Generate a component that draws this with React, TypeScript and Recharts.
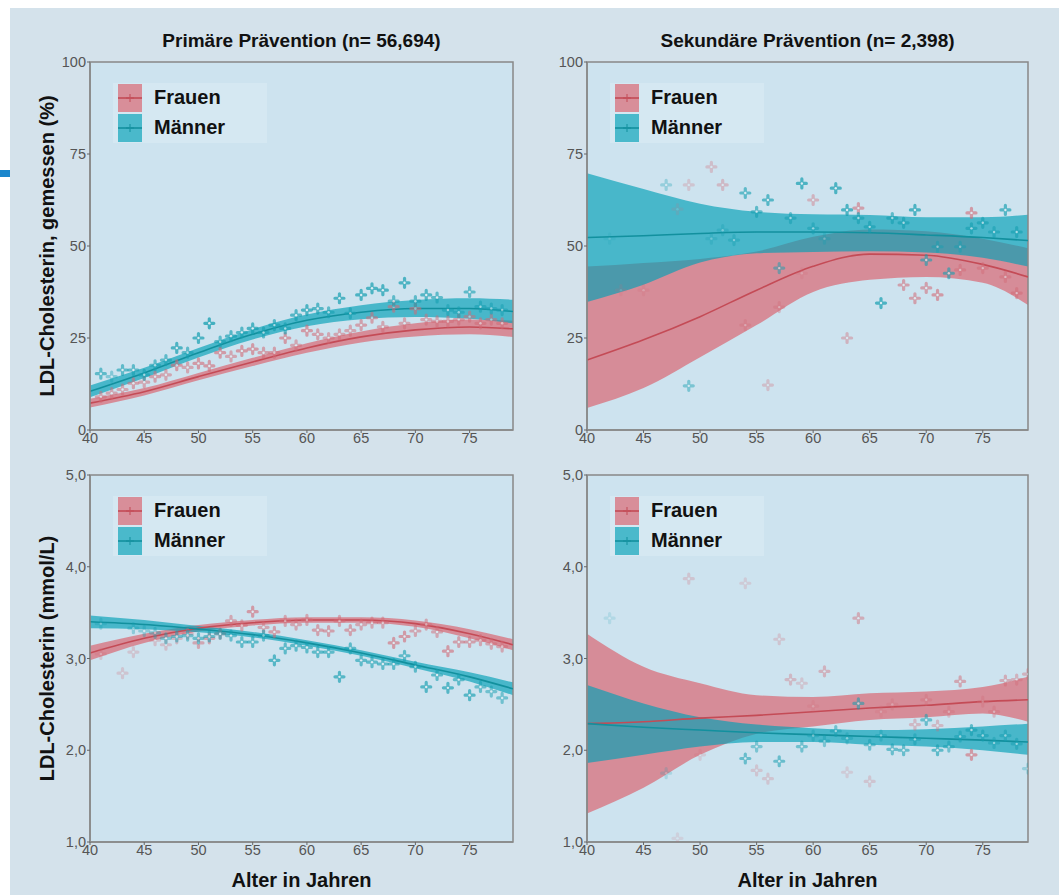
import React from 'react';
import {
  ComposedChart,
  Area,
  Line,
  Scatter,
  XAxis,
  YAxis,
  CartesianGrid,
  ReferenceArea,
  Legend,
} from 'recharts';

// Stützstellen der Glättungskurven (Alter in Jahren)
const fitAges = [40, 45, 50, 55, 60, 65, 70, 75, 79];
const xTicks = [40, 45, 50, 55, 60, 65, 70, 75];
const pctTicks = [0, 25, 50, 75, 100];
const mmolTicks = [1, 2, 3, 4, 5];

const titles = ['Primäre Prävention (n= 56,694)', 'Sekundäre Prävention (n= 2,398)'];
const yLabels = ['LDL-Cholesterin, gemessen (%)', 'LDL-Cholesterin (mmol/L)'];
const xLabel = 'Alter in Jahren';
const seriesNames = ['Frauen', 'Männer'];

// Kurven: [unteres KI, Schätzung, oberes KI] je Stützstelle
const primPctFrauen = [
  [6.1, 7.3, 8.5], [9.4, 10.4, 11.4], [13.5, 14.5, 15.5], [17.4, 18.5, 19.6], [21.0, 22.3, 23.6],
  [23.8, 25.3, 26.8], [25.4, 27.2, 29.0], [26.0, 28.0, 30.0], [25.3, 27.5, 29.7],
];
const primPctMaenner = [
  [8.9, 10.5, 12.1], [14.1, 15.5, 16.9], [19.7, 21.0, 22.3], [24.6, 26.0, 27.4], [28.2, 29.8, 31.4],
  [30.1, 32.0, 33.9], [30.7, 33.0, 35.3], [30.2, 33.0, 35.8], [29.0, 32.2, 35.4],
];
const sekPctFrauen = [
  [6.0, 19.0, 44.4], [11.4, 24.5, 45.4], [19.8, 30.8, 46.5], [28.5, 38.0, 48.5], [37.5, 44.5, 52.5],
  [40.8, 47.8, 54.5], [41.6, 47.5, 54.0], [40.0, 45.0, 52.0], [34.0, 41.6, 49.4],
];
const sekPctMaenner = [
  [34.8, 52.3, 69.8], [39.5, 52.8, 65.5], [45.5, 53.4, 61.5], [48.0, 53.8, 59.3], [48.4, 53.8, 58.6],
  [48.6, 53.6, 58.4], [48.2, 53.0, 57.8], [46.8, 52.3, 57.8], [44.4, 51.5, 58.5],
];
const primMmolFrauen = [
  [2.98, 3.06, 3.14], [3.17, 3.22, 3.27], [3.295, 3.33, 3.365], [3.36, 3.39, 3.42], [3.39, 3.42, 3.45],
  [3.39, 3.42, 3.45], [3.345, 3.38, 3.415], [3.22, 3.27, 3.32], [3.09, 3.15, 3.21],
];
const primMmolMaenner = [
  [3.33, 3.40, 3.47], [3.32, 3.37, 3.42], [3.285, 3.32, 3.355], [3.23, 3.26, 3.29], [3.14, 3.17, 3.20],
  [3.03, 3.06, 3.09], [2.895, 2.93, 2.965], [2.75, 2.80, 2.85], [2.60, 2.67, 2.74],
];
const sekMmolFrauen = [
  [1.31, 2.29, 3.27], [1.59, 2.31, 2.91], [1.95, 2.35, 2.73], [2.18, 2.38, 2.60], [2.26, 2.42, 2.58],
  [2.33, 2.46, 2.62], [2.36, 2.49, 2.64], [2.40, 2.53, 2.69], [2.31, 2.55, 2.80],
];
const sekMmolMaenner = [
  [1.86, 2.29, 2.71], [1.95, 2.25, 2.51], [2.04, 2.22, 2.36], [2.09, 2.19, 2.28], [2.09, 2.17, 2.24],
  [2.06, 2.15, 2.22], [2.04, 2.13, 2.23], [2.00, 2.11, 2.26], [1.95, 2.09, 2.29],
];

// Mittelwerte je Altersjahr: [Alter, Wert, Gewicht (relative Fallzahl)]
const primPctFrauenPts = [
  [41, 9, 0.5], [42, 10, 0.5], [43, 11, 0.5], [44, 12.7, 0.55], [45, 13, 0.5], [46, 14.5, 0.55],
  [47, 15, 0.5], [48, 17.6, 0.6], [49, 17, 0.5], [50, 18.1, 0.6], [51, 17.4, 0.6], [52, 21, 0.6],
  [53, 20, 0.5], [54, 21.5, 0.6], [55, 22, 0.6], [56, 21, 0.55], [57, 21, 0.55], [58, 25, 0.6],
  [59, 23, 0.5], [60, 27, 0.6], [61, 26, 0.55], [62, 25, 0.5], [63, 26, 0.5], [64, 27, 0.5],
  [65, 28.5, 0.55], [66, 30.5, 0.55], [67, 28, 0.5], [68, 33.5, 0.55], [69, 29, 0.5], [70, 33, 0.55],
  [71, 30, 0.5], [72, 29.5, 0.5], [73, 29.5, 0.5], [74, 30, 0.5], [75, 30.8, 0.5], [76, 29, 0.5],
  [77, 30, 0.5], [78, 29, 0.5],
];
const primPctMaennerPts = [
  [41, 15.3, 0.6], [42, 14.5, 0.4], [43, 16.3, 0.6], [44, 16.3, 0.6], [45, 15, 0.6], [46, 17.6, 0.6],
  [47, 19, 0.6], [48, 22.3, 0.7], [49, 21, 0.6], [50, 25, 0.7], [51, 29, 0.75], [52, 24, 0.6],
  [53, 25.5, 0.65], [54, 26.5, 0.65], [55, 27.6, 0.7], [56, 26.5, 0.6], [57, 28.5, 0.65], [58, 27.6, 0.6],
  [59, 31.2, 0.65], [60, 32.6, 0.7], [61, 33, 0.65], [62, 32, 0.6], [63, 35.8, 0.7], [64, 31.7, 0.6],
  [65, 36.7, 0.7], [66, 38.5, 0.7], [67, 38, 0.7], [68, 35, 0.6], [69, 40, 0.7], [70, 35, 0.6],
  [71, 36.7, 0.65], [72, 36, 0.6], [73, 32.6, 0.55], [74, 32, 0.5], [75, 37.5, 0.6], [76, 33.5, 0.55],
  [77, 33, 0.5], [78, 32.6, 0.5],
];
const sekPctFrauenPts = [
  [43, 38, 0.15], [45, 38, 0.2], [48, 60, 0.15], [49, 66.6, 0.25], [51, 71.5, 0.3], [52, 66.6, 0.35],
  [54, 28.5, 0.3], [56, 12.2, 0.3], [57, 33.4, 0.35], [59, 42.6, 0.2], [60, 62.5, 0.4], [63, 25, 0.4],
  [64, 60.3, 0.55], [68, 39.4, 0.55], [69, 35.8, 0.55], [70, 38.6, 0.55], [71, 36.7, 0.6], [73, 43.5, 0.45],
  [74, 59, 0.6], [75, 44, 0.45], [77, 41.6, 0.45], [78, 37.2, 0.5],
];
const sekPctMaennerPts = [
  [42, 52, 0.15], [47, 66.6, 0.3], [49, 12, 0.45], [51, 52, 0.25], [52, 54.3, 0.3], [53, 51.6, 0.4],
  [54, 64.4, 0.6], [55, 59.3, 0.6], [56, 62.5, 0.65], [57, 44, 0.5], [58, 57.6, 0.55], [59, 67, 0.7],
  [60, 54.8, 0.5], [61, 52, 0.3], [62, 65.7, 0.7], [63, 59.8, 0.7], [64, 57.6, 0.6], [65, 55.2, 0.6],
  [66, 34.5, 0.7], [67, 57.6, 0.6], [68, 56.3, 0.6], [69, 59.8, 0.7], [70, 46.2, 0.6], [71, 49.8, 0.45],
  [72, 42.6, 0.6], [73, 49.8, 0.45], [74, 54.8, 0.6], [75, 56.3, 0.6], [76, 53.8, 0.55], [77, 59.8, 0.65],
  [78, 53.8, 0.6],
];
const primMmolFrauenPts = [
  [41, 3.05, 0.25], [43, 2.84, 0.25], [44, 3.07, 0.25], [46, 3.2, 0.3], [47, 3.15, 0.3], [48, 3.22, 0.35],
  [49, 3.27, 0.4], [50, 3.17, 0.5], [51, 3.22, 0.5], [52, 3.27, 0.5], [53, 3.41, 0.5], [54, 3.36, 0.5],
  [55, 3.51, 0.6], [56, 3.34, 0.5], [57, 3.29, 0.55], [58, 3.41, 0.5], [59, 3.37, 0.5], [60, 3.42, 0.5],
  [61, 3.31, 0.55], [62, 3.3, 0.55], [63, 3.41, 0.5], [64, 3.31, 0.55], [65, 3.37, 0.5], [66, 3.39, 0.5],
  [67, 3.39, 0.5], [68, 3.17, 0.6], [69, 3.24, 0.6], [70, 3.3, 0.5], [71, 3.37, 0.5], [72, 3.29, 0.5],
  [73, 3.08, 0.6], [74, 3.18, 0.55], [75, 3.18, 0.55], [76, 3.2, 0.5], [77, 3.16, 0.5], [78, 3.13, 0.5],
];
const primMmolMaennerPts = [
  [41, 3.38, 0.3], [44, 3.33, 0.35], [45, 3.3, 0.35], [46, 3.28, 0.4], [47, 3.22, 0.45], [48, 3.24, 0.5],
  [49, 3.25, 0.5], [50, 3.22, 0.55], [51, 3.24, 0.55], [52, 3.27, 0.55], [53, 3.25, 0.55], [54, 3.18, 0.6],
  [55, 3.18, 0.6], [56, 3.25, 0.55], [57, 2.98, 0.65], [58, 3.11, 0.6], [59, 3.14, 0.6], [60, 3.12, 0.6],
  [61, 3.07, 0.6], [62, 3.07, 0.6], [63, 2.8, 0.65], [64, 3.11, 0.6], [65, 2.98, 0.6], [66, 2.96, 0.6],
  [67, 2.94, 0.6], [68, 2.94, 0.6], [69, 3.03, 0.6], [70, 2.91, 0.6], [71, 2.69, 0.65], [72, 2.82, 0.6],
  [73, 2.68, 0.65], [74, 2.77, 0.6], [75, 2.6, 0.65], [76, 2.69, 0.55], [77, 2.64, 0.5], [78, 2.57, 0.5],
];
const sekMmolFrauenPts = [
  [48, 1.04, 0.15], [49, 3.87, 0.25], [50, 1.95, 0.2], [54, 3.82, 0.2], [55, 1.78, 0.25], [56, 1.69, 0.25],
  [57, 3.21, 0.25], [58, 2.77, 0.35], [59, 2.73, 0.25], [60, 2.48, 0.2], [61, 2.86, 0.4], [63, 1.76, 0.2],
  [64, 3.44, 0.45], [65, 1.66, 0.25], [66, 2.42, 0.2], [67, 2.5, 0.25], [69, 2.28, 0.35], [70, 2.55, 0.3],
  [71, 2.27, 0.35], [72, 2.42, 0.3], [73, 2.75, 0.5], [74, 1.95, 0.6], [75, 2.53, 0.3], [76, 2.42, 0.35],
  [77, 2.76, 0.45], [78, 2.77, 0.4], [79, 2.83, 0.4],
];
const sekMmolMaennerPts = [
  [42, 3.44, 0.15], [47, 1.75, 0.2], [54, 1.91, 0.55], [55, 2.04, 0.45], [57, 1.88, 0.55], [59, 2.04, 0.5],
  [60, 2.16, 0.4], [61, 2.1, 0.45], [62, 2.21, 0.5], [63, 2.13, 0.4], [64, 2.51, 0.55], [65, 2.06, 0.5],
  [66, 2.16, 0.4], [67, 2.01, 0.55], [68, 2.0, 0.55], [69, 2.12, 0.5], [70, 2.33, 0.55], [71, 2.0, 0.6],
  [72, 2.04, 0.5], [73, 2.15, 0.5], [74, 2.22, 0.6], [75, 2.16, 0.55], [76, 2.08, 0.45], [77, 2.16, 0.5],
  [78, 2.07, 0.5], [79, 1.8, 0.3],
];

const PAGE_BG = '#d4e2eb';
const PANEL_BG = '#cde3ef';
const RED_FILL = '#da5e69';
const TEAL_FILL = '#00a0b6';
const RED_LINE = '#c44b56';
const TEAL_LINE = '#12909e';
const RED_PT = '#d26a76';
const TEAL_PT = '#169fb1';
const FONT = '"Liberation Sans", Arial, sans-serif';

const buildFit = (w: number[][], m: number[][]) =>
  fitAges.map((age, i) => ({
    age,
    wBand: [w[i][0], w[i][2]],
    wFit: w[i][1],
    mBand: [m[i][0], m[i][2]],
    mFit: m[i][1],
  }));

const buildPts = (pts: number[][]) => pts.map(([age, v, n]) => ({ age, v, n }));

const Kreuz = (props: any) => {
  const { cx, cy, payload, color } = props;
  if (cx == null || cy == null) return null;
  const a = 4.5;
  return (
    <g opacity={payload.n}>
      <path
        d={`M${cx - a},${cy}H${cx + a}M${cx},${cy - a}V${cy + a}`}
        stroke={color}
        strokeWidth={3.2}
        strokeLinecap="round"
      />
      <circle cx={cx} cy={cy} r={1.2} fill="#e8f1f5" />
    </g>
  );
};

const LegendBox = () => (
  <div
    style={{
      width: 154,
      height: 60,
      background: 'rgba(225,238,246,0.45)',
      fontFamily: FONT,
      fontWeight: 'bold',
      fontSize: 20,
      color: '#111',
    }}
  >
    {seriesNames.map((name, i) => {
      const fill = i === 0 ? RED_FILL : TEAL_FILL;
      const line = i === 0 ? RED_LINE : TEAL_LINE;
      return (
        <div key={name} style={{ display: 'flex', alignItems: 'center', height: 29, marginTop: i === 0 ? 0 : 1 }}>
          <svg width={34} height={28} style={{ marginLeft: 5 }}>
            <rect x={0} y={0} width={24} height={28} fill={fill} opacity={0.65} />
            <line x1={0} y1={14} x2={24} y2={14} stroke={line} strokeWidth={1.6} />
            <path d="M8,14H16M12,10V18" stroke={line} strokeWidth={2} opacity={0.5} />
          </svg>
          <span style={{ marginLeft: 2 }}>{name}</span>
        </div>
      );
    })}
  </div>
);

interface PanelProps {
  left: number;
  top: number;
  width: number;
  height: number;
  yAxisWidth: number;
  xAxisHeight: number;
  marginTop: number;
  fit: any[];
  wPts: any[];
  mPts: any[];
  yDomain: [number, number];
  yTicks: number[];
  tickFmt: (v: number) => string;
  yLabel?: string;
  xLabel?: string;
}

const tickStyle = { fill: '#555', fontSize: 14.5, fontFamily: FONT };

const Panel: React.FC<PanelProps> = ({
  left, top, width, height, yAxisWidth, xAxisHeight, marginTop,
  fit, wPts, mPts, yDomain, yTicks, tickFmt, yLabel, xLabel: xl,
}) => (
  <div style={{ position: 'absolute', left, top }}>
    <ComposedChart
      width={width}
      height={height}
      data={fit}
      margin={{ top: marginTop, right: 17, left: 0, bottom: 0 }}
    >
      <CartesianGrid horizontal={false} vertical={false} fill={PANEL_BG} />
      <XAxis
        type="number"
        dataKey="age"
        domain={[40, 79]}
        allowDataOverflow
        ticks={xTicks}
        height={xAxisHeight}
        tick={tickStyle}
        tickSize={3}
        tickMargin={0}
        axisLine={{ stroke: '#888', strokeWidth: 1.5 }}
        tickLine={{ stroke: '#666' }}
        label={
          xl
            ? { value: xl, position: 'insideBottom', offset: 7, fill: '#111', fontSize: 20, fontWeight: 'bold', fontFamily: FONT }
            : undefined
        }
      />
      <YAxis
        type="number"
        domain={yDomain}
        allowDataOverflow
        ticks={yTicks}
        width={yAxisWidth}
        tickFormatter={tickFmt}
        tick={tickStyle}
        tickSize={3}
        tickMargin={1}
        axisLine={{ stroke: '#888', strokeWidth: 1.5 }}
        tickLine={{ stroke: '#666' }}
        label={
          yLabel
            ? (p: any) => {
                const vb = p.viewBox;
                const cx = vb.x + 37;
                const cy = vb.y + vb.height / 2;
                return (
                  <text
                    x={cx}
                    y={cy}
                    transform={`rotate(-90 ${cx} ${cy})`}
                    textAnchor="middle"
                    dominantBaseline="central"
                    fill="#111"
                    fontSize={20}
                    fontWeight="bold"
                    fontFamily={FONT}
                  >
                    {yLabel}
                  </text>
                );
              }
            : undefined
        }
      />
      <Area type="monotone" dataKey="wBand" stroke="none" fill={RED_FILL} fillOpacity={0.65} isAnimationActive={false} />
      <Area type="monotone" dataKey="mBand" stroke="none" fill={TEAL_FILL} fillOpacity={0.65} isAnimationActive={false} />
      <Scatter data={wPts} dataKey="v" shape={(p: any) => <Kreuz {...p} color={RED_PT} />} isAnimationActive={false} />
      <Scatter data={mPts} dataKey="v" shape={(p: any) => <Kreuz {...p} color={TEAL_PT} />} isAnimationActive={false} />
      <Line type="monotone" dataKey="wFit" stroke={RED_LINE} strokeWidth={1.6} dot={false} isAnimationActive={false} />
      <Line type="monotone" dataKey="mFit" stroke={TEAL_LINE} strokeWidth={1.6} dot={false} isAnimationActive={false} />
      <ReferenceArea x1={40} x2={79} y1={yDomain[0]} y2={yDomain[1]} fill="none" stroke="#888" strokeWidth={1.5} />
      <Legend
        layout="vertical"
        align="center"
        verticalAlign="middle"
        content={() => <LegendBox />}
        wrapperStyle={{ left: yAxisWidth + 23, top: marginTop + 21, width: 154 }}
      />
    </ComposedChart>
  </div>
);

const pctFmt = (v: number) => String(v);
const mmolFmt = (v: number) => v.toFixed(1).replace('.', ',');

const titleStyle: React.CSSProperties = {
  position: 'absolute',
  top: 30,
  textAlign: 'center',
  fontFamily: FONT,
  fontWeight: 'bold',
  fontSize: 19,
  color: '#111',
};

export default function App() {
  return (
    <div style={{ position: 'absolute', left: 0, top: 0, width: 1059, height: 895, background: '#fff', overflow: 'hidden' }}>
      <div style={{ position: 'absolute', left: 10, top: 8, width: 1049, height: 887, background: PAGE_BG }} />
      <div style={{ position: 'absolute', left: 0, top: 170, width: 10, height: 7, background: '#1b86cc' }} />

      <div style={{ ...titleStyle, left: 90, width: 423 }}>{titles[0]}</div>
      <div style={{ ...titleStyle, left: 587, width: 441 }}>{titles[1]}</div>

      <Panel
        left={10} top={30} width={520} height={422} yAxisWidth={80} xAxisHeight={22} marginTop={32}
        fit={buildFit(primPctFrauen, primPctMaenner)}
        wPts={buildPts(primPctFrauenPts)} mPts={buildPts(primPctMaennerPts)}
        yDomain={[0, 100]} yTicks={pctTicks} tickFmt={pctFmt} yLabel={yLabels[0]}
      />
      <Panel
        left={530} top={30} width={515} height={422} yAxisWidth={57} xAxisHeight={22} marginTop={32}
        fit={buildFit(sekPctFrauen, sekPctMaenner)}
        wPts={buildPts(sekPctFrauenPts)} mPts={buildPts(sekPctMaennerPts)}
        yDomain={[0, 100]} yTicks={pctTicks} tickFmt={pctFmt}
      />
      <Panel
        left={10} top={445} width={520} height={449} yAxisWidth={80} xAxisHeight={52} marginTop={30}
        fit={buildFit(primMmolFrauen, primMmolMaenner)}
        wPts={buildPts(primMmolFrauenPts)} mPts={buildPts(primMmolMaennerPts)}
        yDomain={[1, 5]} yTicks={mmolTicks} tickFmt={mmolFmt} yLabel={yLabels[1]} xLabel={xLabel}
      />
      <Panel
        left={530} top={445} width={515} height={449} yAxisWidth={57} xAxisHeight={52} marginTop={30}
        fit={buildFit(sekMmolFrauen, sekMmolMaenner)}
        wPts={buildPts(sekMmolFrauenPts)} mPts={buildPts(sekMmolMaennerPts)}
        yDomain={[1, 5]} yTicks={mmolTicks} tickFmt={mmolFmt} xLabel={xLabel}
      />
    </div>
  );
}
